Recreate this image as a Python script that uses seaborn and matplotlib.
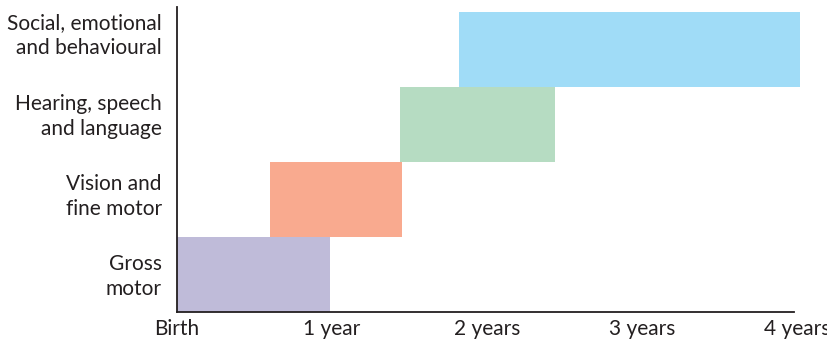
import matplotlib
matplotlib.use("Agg")
import matplotlib.pyplot as plt
import seaborn as sns
import pandas as pd

categories = ["Social, emotional\nand behavioural", "Hearing, speech\nand language",
              "Vision and\nfine motor", "Gross\nmotor"]
start_years = [1.82, 1.44, 0.60, 0.0]
end_years = [4.02, 2.44, 1.45, 0.99]
colors = ["#a0dcf7", "#b6dcc2", "#f9aa8f", "#bfbbd9"]
tick_values = [0, 1, 2, 3, 4]
tick_labels = ["Birth", "1 year", "2 years", "3 years", "4 years"]
label_positions = [-0.25, 0.83, 1.90, 2.97]

sns.set_theme(style="white")
plt.rcParams["font.family"] = ["Lato", "DejaVu Sans"]
text_color = "#231f20"

df = pd.DataFrame({"cat": categories,
                   "dur": [e - s for s, e in zip(start_years, end_years)],
                   "start": start_years})

fig = plt.figure(figsize=(8.28, 3.42), dpi=100)
ax = fig.add_axes([177 / 828, 1 - 312 / 342, (800 - 177) / 828, (312 - 7) / 342])

try:
    sns.barplot(data=df, x="dur", y="cat", order=categories, left=df["start"].values,
                width=1.0, errorbar=None, orient="y", ax=ax, linewidth=0)
    for p, c in zip(ax.patches, colors):
        p.set_facecolor(c)
        p.set_edgecolor("none")
except Exception:
    ax.cla()
    ax.barh(range(len(categories)), df["dur"], left=df["start"], height=1.0,
            color=colors, linewidth=0)
    ax.invert_yaxis()

ax.set_yticks(label_positions)
ax.set_yticklabels(categories)
ax.set_xlim(0, 4.02)
ax.set_ylim(3.5, -0.57)
ax.set_xlabel("")
ax.set_ylabel("")
ax.set_xticks(tick_values)
ax.set_xticklabels(tick_labels)
for spine in ["top", "right"]:
    ax.spines[spine].set_visible(False)
for spine in ["left", "bottom"]:
    ax.spines[spine].set_color(text_color)
    ax.spines[spine].set_linewidth(1.3)
    ax.spines[spine].set_zorder(5)
ax.spines["bottom"].set_bounds(0, 3.98)
ax.tick_params(axis="both", length=0, labelsize=15, colors=text_color)
ax.tick_params(axis="x", pad=5)
ax.tick_params(axis="y", pad=11)
for lab in ax.get_yticklabels():
    lab.set_horizontalalignment("right")
    lab.set_multialignment("right")
    lab.set_linespacing(1.3)

fig.savefig("out.png", dpi=100)
